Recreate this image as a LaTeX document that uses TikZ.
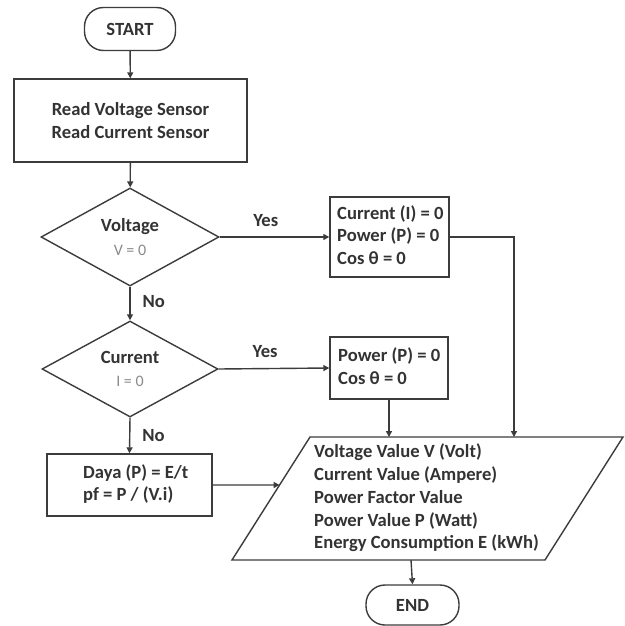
\documentclass[tikz,border=0pt]{standalone}
\usepackage{fontspec}
\setmainfont{Carlito}
\usetikzlibrary{shapes.geometric,arrows.meta,calc}
\definecolor{ink}{HTML}{333333}
\definecolor{edge}{HTML}{3C3C3C}
\definecolor{soft}{HTML}{8A8A8A}
\begin{document}
\begin{tikzpicture}[x=1pt,y=-1pt,
  every node/.style={font=\fontsize{18.6}{22.8}\selectfont\bfseries, text=ink},
  lin/.style={draw=edge, line width=1.4pt},
  arr/.style={lin, -{Triangle[length=6pt,width=6pt]}},
  terminal/.style={lin, rounded corners=19pt, minimum width=91pt, minimum height=43pt, inner sep=0pt},
  procbox/.style={lin, inner sep=0pt},
  decision/.style={lin, diamond, inner sep=0pt, align=center},
  lbl/.style={inner sep=0pt}
]
\useasboundingbox (0,0) rectangle (624,626);
\fill[white] (0,0) rectangle (624,626);

% start
\node[terminal] (start) at (130,29) {START};
% read sensors
\node[procbox, minimum width=233pt, minimum height=83pt, align=center] (read) at (130.5,120.5)
  {Read Voltage Sensor\\Read Current Sensor};
% decision voltage
\node[decision, minimum width=178pt, minimum height=98pt] (dv) at (130,237)
  {Voltage\\[1pt]{\mdseries\fontsize{16}{18}\selectfont\color{soft}V = 0}};
% box2
\node[procbox, minimum width=119pt, minimum height=80pt] (b2) at (389.5,237) {};
\node[lbl, align=left, anchor=west] (b2t) at (337,235) {Current (I) = 0\\Power (P) = 0\\Cos θ = 0};
% decision current
\node[decision, minimum width=176pt, minimum height=96pt] (dc) at (130,369)
  {Current\\[1pt]{\mdseries\fontsize{16}{18}\selectfont\color{soft}I = 0}};
% box3
\node[procbox, minimum width=118pt, minimum height=62pt] (b3) at (389,368) {};
\node[lbl, align=left, anchor=west] (b3t) at (338,366) {Power (P) = 0\\Cos θ = 0};
% box4
\node[procbox, minimum width=165pt, minimum height=62pt] (b4) at (129.5,485) {};
\node[lbl, align=left, anchor=west] (b4t) at (83,484) {Daya (P) = E/t\\pf = P / (V.i)};
% output parallelogram
\coordinate (ptl) at (310,437);
\coordinate (ptr) at (623,437);
\coordinate (pbr) at (545,560);
\coordinate (pbl) at (232,560);
\draw[lin, line join=miter] (ptl) -- (ptr) -- (pbr) -- (pbl) -- cycle;
\node[lbl, align=left, anchor=west] (para) at (314,498)
  {Voltage Value V (Volt)\\Current Value (Ampere)\\Power Factor Value\\Power Value P (Watt)\\Energy Consumption E (kWh)};
\coordinate (pbot) at (411,560);
\coordinate (pin) at ($(pbl)!0.61!(ptl)$);
% end
\node[terminal, minimum width=93pt, minimum height=40pt] (end) at (412.5,605) {END};

% connectors
\draw[arr] (start) -- (read);
\draw[arr] (read) -- (dv);
\draw[arr] (dv.east) -- node[lbl, above=10pt, pos=0.42] (y1) {Yes} (b2.west);
\draw[arr] (dv.south) -- node[lbl, right=12pt, pos=0.45] (n1) {No} (dc.north);
\draw[arr] (dc.east) -- node[lbl, above=10pt, pos=0.42] (y2) {Yes} (b3.west);
\draw[arr] (dc.south) -- node[lbl, right=12pt, pos=0.5] (n2) {No} (b4.north);
\draw[arr] (b4.east) -- (pin);
\draw[arr] (b2.east) -| (514,437);
\draw[arr] (b3.south) -- (b3.south |- ptl);
\draw[arr] (pbot) -- (end.north);
\end{tikzpicture}
\end{document}
